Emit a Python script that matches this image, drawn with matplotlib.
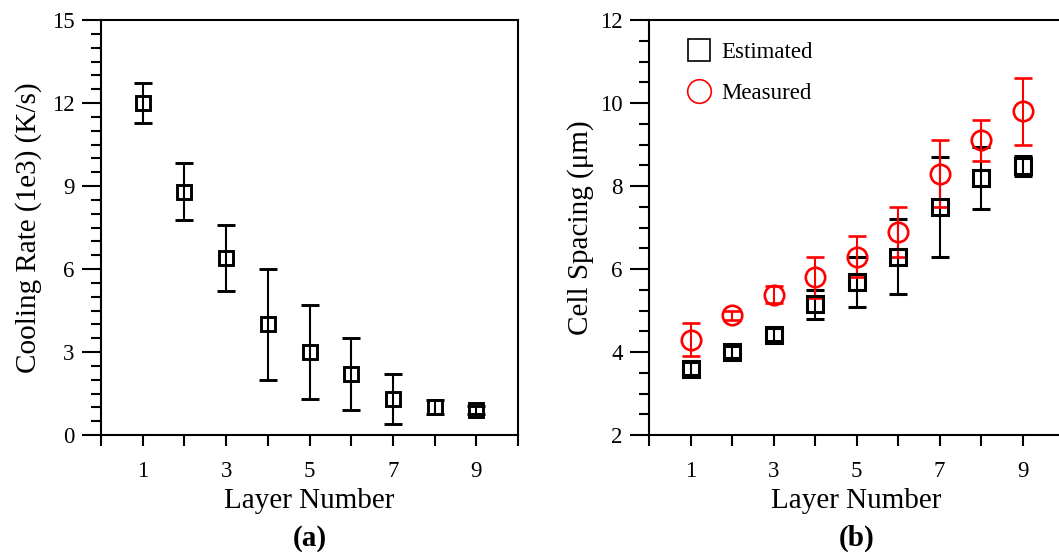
#!/usr/bin/env python3
"""
Cooling rate and cell spacing versus layer number, two panels (a) and (b).
"""

import matplotlib
matplotlib.use("Agg")
import matplotlib.pyplot as plt
from matplotlib.lines import Line2D
from matplotlib.ticker import MultipleLocator

plt.rcParams["font.family"] = ["Liberation Serif", "DejaVu Serif"]

# ---- data ----
layers = [1, 2, 3, 4, 5, 6, 7, 8, 9]

cooling_rate = [12.0, 8.8, 6.4, 4.0, 3.0, 2.2, 1.3, 1.0, 0.9]
cooling_err = [0.73, 1.03, 1.2, 2.0, 1.7, 1.3, 0.9, 0.25, 0.15]

spacing_est = [3.6, 4.0, 4.42, 5.15, 5.68, 6.3, 7.5, 8.2, 8.48]
spacing_est_err = [0.15, 0.15, 0.15, 0.35, 0.6, 0.9, 1.2, 0.75, 0.25]

spacing_meas = [4.3, 4.88, 5.38, 5.8, 6.3, 6.9, 8.3, 9.1, 9.8]
spacing_meas_err = [0.4, 0.1, 0.2, 0.5, 0.5, 0.6, 0.8, 0.5, 0.8]

x_tick_labels = [str(i) if i % 2 else "" for i in range(11)]


def style_axes(ax, ymin, ymax, ystep):
    ax.set_xlim(0, 10)
    ax.set_ylim(ymin, ymax)
    ax.set_xticks(range(11), labels=x_tick_labels)
    ax.yaxis.set_major_locator(MultipleLocator(ystep))
    ax.yaxis.set_minor_locator(MultipleLocator(0.5))
    ax.tick_params(axis="x", which="major", direction="out", length=8,
                   width=1.5, pad=11, labelsize=16.5)
    ax.tick_params(axis="y", which="major", direction="out", length=14,
                   width=1.5, pad=5, labelsize=16.5)
    ax.tick_params(axis="y", which="minor", direction="out", length=7,
                   width=1.5)
    ax.tick_params(top=False, right=False, which="both")
    for sp in ax.spines.values():
        sp.set_linewidth(1.5)
    ax.set_xlabel("Layer Number", fontsize=21, labelpad=4)


fig = plt.figure(figsize=(10.59, 5.52), dpi=100)

# ---- (a) cooling rate ----
ax1 = fig.add_axes([101 / 1059, 117 / 552, 417 / 1059, 415 / 552])
ax1.errorbar(layers, cooling_rate, yerr=cooling_err, fmt="s", ms=9.8,
             mfc="none", mec="black", mew=2.1, ecolor="black",
             elinewidth=1.5, capsize=6.8, capthick=1.5)
style_axes(ax1, 0, 15, 3)
ax1.set_ylabel("Cooling Rate (1e3) (K/s)", fontsize=21, labelpad=7)
ax1.text(0.5, -0.25, "(a)", transform=ax1.transAxes, ha="center",
         va="center", fontsize=21, fontweight="bold")

# ---- (b) cell spacing ----
ax2 = fig.add_axes([649 / 1059, 117 / 552, 415 / 1059, 415 / 552])
ax2.errorbar(layers, spacing_est, yerr=spacing_est_err, fmt="s", ms=11.2,
             mfc="none", mec="black", mew=2.2, ecolor="black",
             elinewidth=1.5, capsize=6.8, capthick=1.5)
ax2.errorbar(layers, spacing_meas, yerr=spacing_meas_err, fmt="o", ms=14,
             mfc="none", mec="red", mew=1.9, ecolor="red",
             elinewidth=1.5, capsize=6.8, capthick=1.5)
style_axes(ax2, 2, 12, 2)
ax2.set_ylabel("Cell Spacing (\u03bcm)", fontsize=21, labelpad=4)
ax2.text(0.5, -0.25, "(b)", transform=ax2.transAxes, ha="center",
         va="center", fontsize=21, fontweight="bold")

handles = [
    Line2D([], [], ls="none", marker="s", ms=15.3, mfc="none", mec="black",
           mew=1.2),
    Line2D([], [], ls="none", marker="o", ms=17, mfc="none", mec="red",
           mew=1.2),
]
ax2.legend(handles, ["Estimated", "Measured"], loc="upper left",
           bbox_to_anchor=(0.055, 0.98), frameon=False, fontsize=16.5,
           handlelength=1.2, handletextpad=0.35, labelspacing=0.85,
           borderaxespad=0.2)

plt.savefig("out.png", dpi=100)
plt.close()
